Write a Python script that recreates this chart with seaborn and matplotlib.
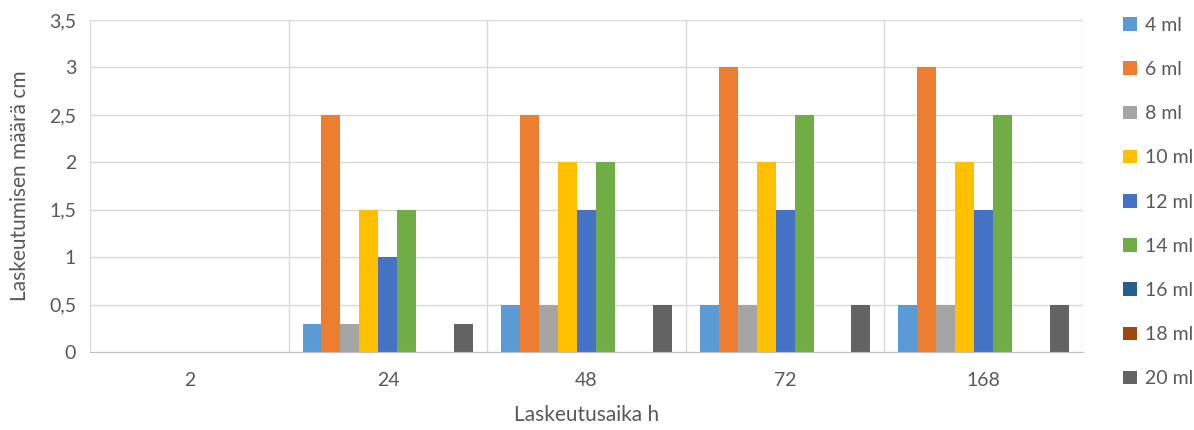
import matplotlib
matplotlib.use("Agg")
import matplotlib.pyplot as plt
import seaborn as sns
import pandas as pd
from matplotlib.ticker import FuncFormatter, MultipleLocator
from matplotlib.patches import Patch

# data
times = ["2", "24", "48", "72", "168"]
series = ["4 ml", "6 ml", "8 ml", "10 ml", "12 ml", "14 ml", "16 ml", "18 ml", "20 ml"]
ml_4 = [0, 0.3, 0.5, 0.5, 0.5]
ml_6 = [0, 2.5, 2.5, 3.0, 3.0]
ml_8 = [0, 0.3, 0.5, 0.5, 0.5]
ml_10 = [0, 1.5, 2.0, 2.0, 2.0]
ml_12 = [0, 1.0, 1.5, 1.5, 1.5]
ml_14 = [0, 1.5, 2.0, 2.5, 2.5]
ml_16 = [0, 0, 0, 0, 0]
ml_18 = [0, 0, 0, 0, 0]
ml_20 = [0, 0.3, 0.5, 0.5, 0.5]
colors = ["#5B9BD5", "#ED7D31", "#A5A5A5", "#FFC000", "#4472C4",
          "#70AD47", "#255E91", "#9E480E", "#636363"]

values = [ml_4, ml_6, ml_8, ml_10, ml_12, ml_14, ml_16, ml_18, ml_20]
rows = []
for s, vals in zip(series, values):
    for t, v in zip(times, vals):
        rows.append({"aika": t, "sarja": s, "arvo": v})
df = pd.DataFrame(rows)

sns.set_style("white")
plt.rcParams["font.family"] = ["Lato", "DejaVu Sans"]

fig = plt.figure(figsize=(11.94, 4.30), dpi=100)
ax = fig.add_axes([0.0754, 0.181, 0.8316, 0.7725])

sns.barplot(data=df, x="aika", y="arvo", hue="sarja", order=times,
            hue_order=series, palette=colors, width=0.86, saturation=1,
            edgecolor="none", linewidth=0, ax=ax, legend=False)

ax.set_ylim(0, 3.5)
ax.set_xlim(-0.5, len(times) - 0.5)
ax.yaxis.set_major_locator(MultipleLocator(0.5))
ax.yaxis.set_major_formatter(FuncFormatter(
    lambda v, p: f"{v:g}".replace(".", ",")))

# gridlines: horizontal at ticks, vertical between categories
ax.set_axisbelow(True)
ax.grid(axis="y", color="#D9D9D9", linewidth=1)
for b in range(len(times) + 1):
    ax.axvline(b - 0.5, color="#D9D9D9", linewidth=1, zorder=0)

for side in ["top", "right", "left"]:
    ax.spines[side].set_visible(False)
ax.spines["bottom"].set_color("#BFBFBF")
ax.tick_params(axis="both", length=0, labelsize=14, colors="#595959")
ax.tick_params(axis="y", pad=10)
ax.tick_params(axis="x", pad=14)

ax.set_xlabel("Laskeutusaika h", fontsize=15, color="#595959", labelpad=12)
ax.set_ylabel("Laskeutumisen määrä cm", fontsize=15, color="#595959", labelpad=14)

handles = [Patch(facecolor=c, edgecolor="none") for c in colors]
fig.legend(handles, series, loc="center left", bbox_to_anchor=(0.926, 0.53),
           frameon=False, fontsize=14, labelcolor="#595959",
           handlelength=0.7, handleheight=0.7, handletextpad=0.4,
           labelspacing=1.4)

fig.savefig("out.png", dpi=100)
